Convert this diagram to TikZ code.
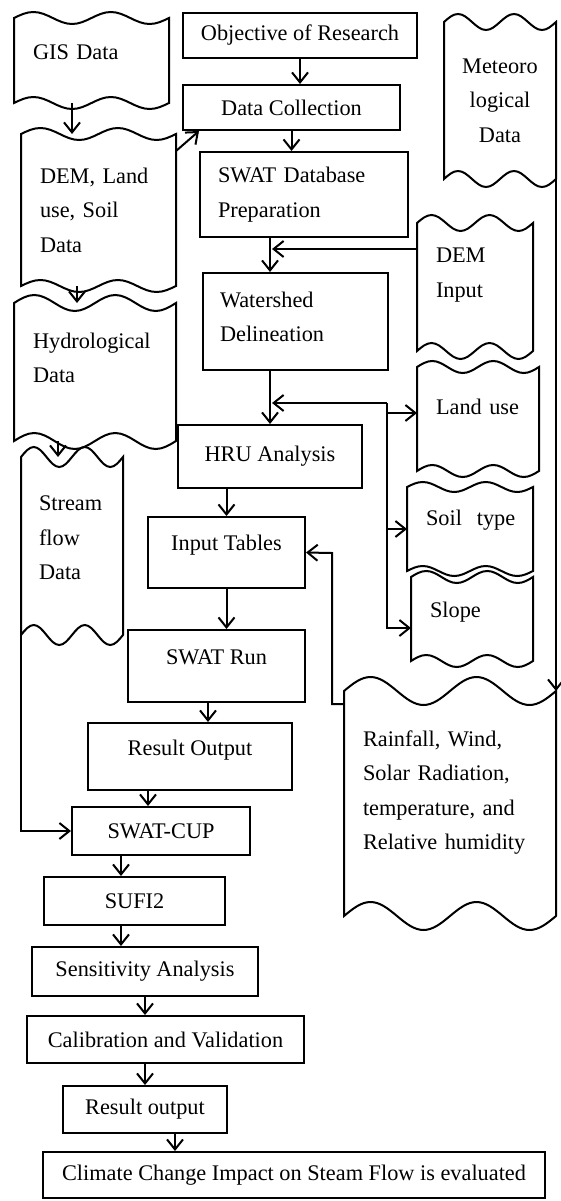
\documentclass[tikz,border=0pt]{standalone}
\usepackage{fontspec}
\setmainfont{Liberation Serif}
\usepackage{tikz}
\usetikzlibrary{positioning,shapes,arrows.meta,calc}

\newcommand{\padbelow}[1]{\rule[-#1]{0pt}{0pt}}
\newcommand{\tapeline}[2]{% wavy top and bottom round a data node
  \draw let \p1=(#1.north west), \p2=(#1.south east), \n1={(\x2-\x1)/8} in
    (\p1) \foreach \k in {1,2}{ sin ++(\n1,#2) cos ++(\n1,-#2) sin ++(\n1,-#2) cos ++(\n1,#2) }
    -- (\x2,\y2)
    \foreach \k in {1,2}{ sin ++(-\n1,-#2) cos ++(-\n1,#2) sin ++(-\n1,#2) cos ++(-\n1,-#2) }
    -- cycle;
}

\begin{document}
\begin{tikzpicture}[x=1pt, y=-1pt, line width=2pt,
    >={Straight Barb[length=10pt,width=16pt]},
    process/.style={draw, inner sep=0pt, align=center, font=\fontsize{22.3}{34.5}\selectfont},
    datatape/.style={inner sep=0pt, align=left, font=\fontsize{22.3}{34.5}\selectfont}]
    % SWAT modelling workflow
    \useasboundingbox (0,0) rectangle (560,1201);

    \node[process, minimum width=234pt, minimum height=45pt] (objective) at (300,35.5) {Objective of Research};
    \node[process, minimum width=217pt, minimum height=45pt] (collect) at (291.5,107.5) {Data Collection};
    \node[process, minimum width=208pt, minimum height=85pt, text width=172pt, align=left] (swatdb) at (304,194.5) {SWAT Database\\Preparation};
    \node[process, minimum width=185pt, minimum height=97pt, text width=151pt, align=left] (watershed) at (295.5,321.5) {Watershed\\Delineation\padbelow{9pt}};
    \node[process, minimum width=184pt, minimum height=63pt] (hru) at (270,456.5) {HRU Analysis};
    \node[process, minimum width=157pt, minimum height=71pt] (input) at (226.5,552.5) {Input Tables\padbelow{19pt}};
    \node[process, minimum width=177pt, minimum height=72pt] (swatrun) at (216.5,666) {SWAT Run\padbelow{18pt}};
    \node[process, minimum width=204pt, minimum height=67pt] (result) at (190,756.5) {Result Output\padbelow{18pt}};
    \node[process, minimum width=178pt, minimum height=48pt] (swatcup) at (161,831) {SWAT-CUP};
    \node[process, minimum width=181pt, minimum height=48pt] (sufi) at (134.5,901) {SUFI2};
    \node[process, minimum width=226pt, minimum height=49pt] (sens) at (145,971.5) {Sensitivity Analysis};
    \node[process, minimum width=277pt, minimum height=47pt] (calib) at (165.5,1039.5) {Calibration and Validation};
    \node[process, minimum width=164pt, minimum height=47pt] (output) at (145,1109.5) {Result output};
    \node[process, minimum width=502pt, minimum height=46pt] (climate) at (294,1175) {Climate Change Impact on Steam Flow is evaluated};

    \node[datatape, minimum width=153pt, minimum height=83pt, text width=117pt] (gis) at (91.5,60.5) {GIS Data\padbelow{16pt}};
    \node[datatape, minimum width=153pt, minimum height=150pt, text width=117pt] (dem) at (98.5,210) {DEM, Land\\use, Soil\\Data};
    \node[datatape, minimum width=160pt, minimum height=136pt, text width=124pt] (hydro) at (95,372) {Hydrological\\Data\padbelow{28pt}};
    \node[datatape, minimum width=100pt, minimum height=176pt, text width=66pt] (stream) at (72,546) {Stream\\flow\\Data\padbelow{16pt}};
    \node[datatape, minimum width=110pt, minimum height=155pt, text width=90pt, align=center] (meteo) at (500,100.5) {Meteoro\\logical\\Data};
    \node[datatape, minimum width=114pt, minimum height=126pt, text width=78pt] (deminput) at (475,287) {DEM\\Input\padbelow{29pt}};
    \node[datatape, minimum width=120pt, minimum height=102pt, text width=84pt] (landuse) at (478,419) {Land use\padbelow{24pt}};
    \node[datatape, minimum width=124pt, minimum height=82pt, text width=88pt] (soil) at (470,529) {\mbox{Soil\ \ type}\padbelow{23pt}};
    \node[datatape, minimum width=120pt, minimum height=82pt, text width=84pt] (slope) at (472,619) {Slope\padbelow{19pt}};
    \node[datatape, minimum width=210pt, minimum height=223pt, text width=174pt] (rain) at (450,803.5) {Rainfall, Wind,\\Solar Radiation,\\temperature, and\\Relative humidity\padbelow{27pt}};

    \tapeline{gis}{6pt}
    \tapeline{dem}{6pt}
    \tapeline{hydro}{8pt}
    \tapeline{stream}{10pt}
    \tapeline{meteo}{8pt}
    \tapeline{deminput}{8pt}
    \tapeline{landuse}{6pt}
    \tapeline{soil}{5pt}
    \tapeline{slope}{6pt}
    \tapeline{rain}{14pt}

    \coordinate (bus) at (387,403);
    \coordinate (tablejoin) at (332,553);

    \draw[->] ([xshift=-19.5pt]gis.south) -- ([xshift=-19.5pt]gis.south |- dem.north);
    \draw[->] ([yshift=-17pt]dem.north east) -- ([xshift=17pt]collect.south west);
    \draw[->] ([xshift=-21.5pt]dem.south) -- ([xshift=-21.5pt]dem.south |- hydro.north);
    \draw[->] ([xshift=-14pt]stream.north |- hydro.south) -- ([xshift=-14pt]stream.north);
    \draw[->] (stream.south west) |- (swatcup.west);
    \draw[->] (objective.south) -- (objective.south |- collect.north);
    \draw[->] (collect.south) -- (collect.south |- swatdb.north);
    \draw[->] (hru.north |- swatdb.south) -- (hru.north |- watershed.north);
    \draw[->, shorten >=2pt] ([yshift=38pt]deminput.west) -- ([yshift=38pt]deminput.west -| hru.north);
    \draw[->] (hru.north |- watershed.south) -- (hru.north);
    \draw[->, shorten >=2pt] (bus) -- (bus -| hru.north);
    \draw[->] (bus) |- ([yshift=-9pt]slope.west);
    \draw[->] ([yshift=6pt]landuse.west -| bus) -- ([yshift=6pt]landuse.west);
    \draw[->] (soil.west -| bus) -- (soil.west);
    \draw[->] (meteo.south east) -- (meteo.south east |- rain.north east);
    \draw[->] ([yshift=-13pt]rain.north west) -| (tablejoin) -- (input.east);
    \draw[->] (input.north |- hru.south) -- (input.north);
    \draw[->] (input.south) -- (input.south |- swatrun.north);
    \draw[->] ([xshift=-8.5pt]swatrun.south) -- ([xshift=-8.5pt]swatrun.south |- result.north);
    \draw[->] ([xshift=-13pt]swatcup.north |- result.south) -- ([xshift=-13pt]swatcup.north);
    \draw[->] ([xshift=-13.5pt]sufi.north |- swatcup.south) -- ([xshift=-13.5pt]sufi.north);
    \draw[->] ([xshift=-13.5pt]sufi.south) -- ([xshift=-13.5pt]sufi.south |- sens.north);
    \draw[->] (sens.south) -- (sens.south |- calib.north);
    \draw[->] (output.north |- calib.south) -- (output.north);
    \draw[->] ([xshift=30pt]output.south) -- ([xshift=30pt]output.south |- climate.north);
\end{tikzpicture}
\end{document}
